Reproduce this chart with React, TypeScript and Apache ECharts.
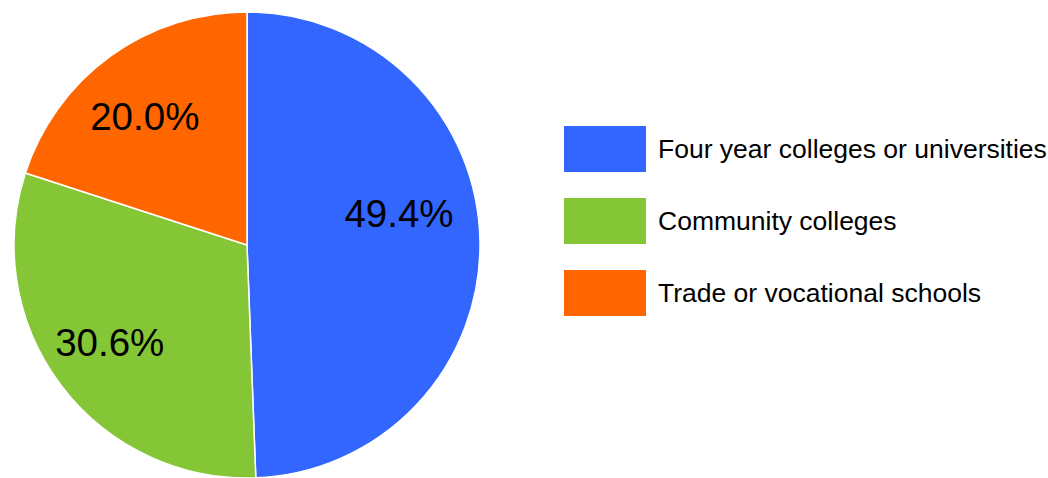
import React, { useEffect, useRef } from "react";
import * as echarts from "echarts";

const categories = [
  "Four year colleges or universities",
  "Community colleges",
  "Trade or vocational schools",
];
const shares = [49.4, 30.6, 20.0];
const colors = ["#3366FF", "#85C637", "#FF6600"];
const labelOffsets: number[][] = [[-10, -28], [-8, 0], [-7, 3]];

const FONT = "'Liberation Sans', Arial, Helvetica, sans-serif";

export default function App() {
  const ref = useRef<HTMLDivElement>(null);
  useEffect(() => {
    document.body.style.margin = "0";
    const chart = echarts.init(ref.current!, null, { renderer: "svg" });
    const data = categories.map((name, i) => ({
      name,
      value: shares[i],
      itemStyle: { color: colors[i] },
    }));
    chart.setOption({
      animation: false,
      backgroundColor: "#ffffff",
      legend: {
        orient: "vertical",
        left: 562,
        top: 124,
        padding: 0,
        itemWidth: 84,
        itemHeight: 48,
        itemGap: 22,
        icon: "rect",
        selectedMode: false,
        data: categories,
        textStyle: {
          fontSize: 26.5,
          color: "#000",
          fontFamily: FONT,
          padding: [0, 0, 0, 6],
        },
      },
      series: [
        {
          type: "pie",
          center: [247, 245],
          radius: [0, 233],
          startAngle: 90,
          clockwise: true,
          silent: true,
          label: { show: false },
          labelLine: { show: false },
          itemStyle: { borderColor: "#ffffff", borderWidth: 1.5 },
          data,
        },
        {
          type: "pie",
          center: [247, 245],
          radius: [85, 233],
          startAngle: 90,
          clockwise: true,
          silent: true,
          legendHoverLink: false,
          itemStyle: { color: "rgba(0,0,0,0)", borderWidth: 0 },
          labelLine: { show: false },
          label: {
            show: true,
            position: "inside",
            fontSize: 38.5,
            color: "#000",
            fontFamily: FONT,
            formatter: (p: any) => p.value.toFixed(1) + "%",
          },
          data: categories.map((name, i) => ({
            name: name + " ",
            value: shares[i],
            label: { offset: labelOffsets[i] },
          })),
        },
      ],
    });
    return () => chart.dispose();
  }, []);
  return (
    <div
      ref={ref}
      style={{ position: "fixed", left: 0, top: 0, width: 1048, height: 478 }}
    />
  );
}
